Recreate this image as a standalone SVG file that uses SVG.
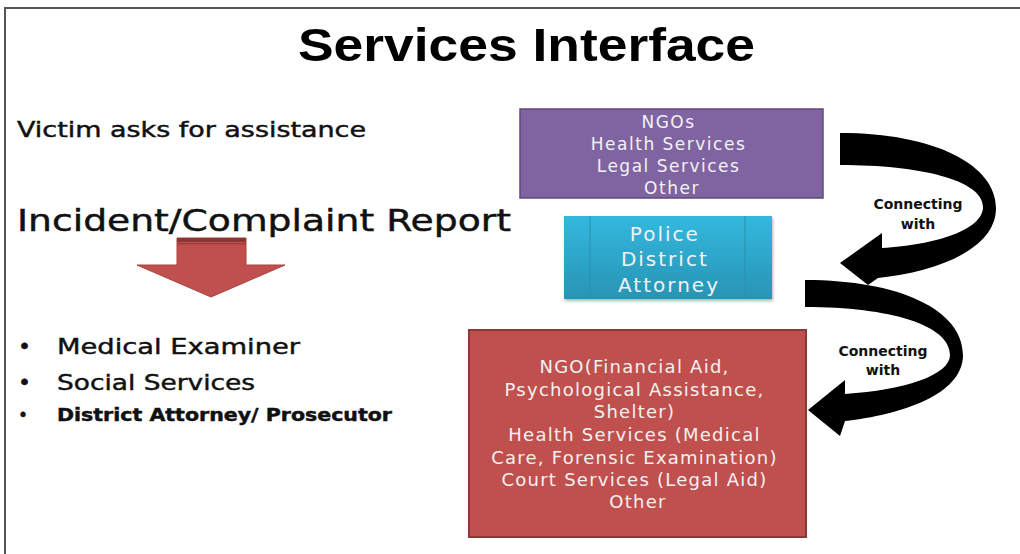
<svg xmlns="http://www.w3.org/2000/svg" width="1020" height="554" viewBox="0 0 1020 554">
  <defs>
    <linearGradient id="tealFill" x1="0" y1="0" x2="0" y2="1">
      <stop offset="0" stop-color="#33B8DE"/>
      <stop offset="1" stop-color="#2894B5"/>
    </linearGradient>
    <filter id="softShadow" x="-10%" y="-10%" width="130%" height="140%">
      <feDropShadow dx="1" dy="2" stdDeviation="1.5" flood-color="#000" flood-opacity="0.3"/>
    </filter>
    <style>
      .body { font-family: "DejaVu Sans", "Verdana", sans-serif; fill: #111; stroke: #111; stroke-width: 0.45px; }
      .boxtext { font-family: "DejaVu Sans", "Verdana", sans-serif; fill: #f2f2f2; text-anchor: middle; }
      .label { font-family: "DejaVu Sans", "Verdana", sans-serif; font-weight: bold; font-size: 14px; fill: #111;
               text-anchor: middle; stroke: #fff; stroke-width: 3px; paint-order: stroke; stroke-linejoin: round; }
      .curve { fill: #000; }
    </style>
  </defs>

  <rect x="0" y="0" width="1020" height="554" fill="#fff"/>

  <!-- slide frame -->
  <path d="M5 554 V8 H1020" fill="none" stroke="#555" stroke-width="2"/>

  <!-- title -->
  <g id="title">
    <text x="298" y="61" font-family="'Liberation Sans', Arial, sans-serif" font-weight="bold" font-size="46" fill="#000"
          textLength="457" lengthAdjust="spacingAndGlyphs">Services Interface</text>
  </g>

  <!-- left column -->
  <g id="victim">
    <text class="body" x="17" y="137" font-size="21" textLength="349" lengthAdjust="spacingAndGlyphs">Victim asks for assistance</text>
  </g>
  <g id="report">
    <text class="body" x="17" y="231" font-size="30" textLength="494" lengthAdjust="spacingAndGlyphs">Incident/Complaint Report</text>
  </g>

  <g id="down-arrow">
    <polygon points="177,238 246,238 246,265 285,265 211,297 137,265 177,265" fill="#C0504D" stroke="#A8433F" stroke-width="1"/>
    <rect x="177" y="238" width="69" height="4" fill="#8C3532"/>
    <rect x="177" y="243" width="69" height="1.5" fill="#9E3D3A"/>
  </g>

  <g id="bullets">
    <text class="body" x="18" y="354" font-size="22">•</text>
    <text class="body" x="57" y="354" font-size="22" textLength="243" lengthAdjust="spacingAndGlyphs">Medical Examiner</text>
    <text class="body" x="18" y="390" font-size="22">•</text>
    <text class="body" x="57" y="390" font-size="22" textLength="198" lengthAdjust="spacingAndGlyphs">Social Services</text>
    <text class="body" x="18" y="421" font-size="17">•</text>
    <text class="body" x="57" y="421" font-size="17" font-weight="bold" stroke-width="0.2" textLength="335" lengthAdjust="spacingAndGlyphs">District Attorney/ Prosecutor</text>
  </g>

  <!-- service boxes -->
  <g id="ngo-box">
    <rect x="520" y="109" width="303" height="89" fill="#8064A2" stroke="#5E4A7A" stroke-width="1.5"/>
    <text class="boxtext" font-size="17" letter-spacing="1.5">
      <tspan x="672" y="128">NGOs</tspan>
      <tspan x="672" y="150">Health Services</tspan>
      <tspan x="672" y="172">Legal Services</tspan>
      <tspan x="672" y="194">Other</tspan>
    </text>
  </g>

  <g id="police-box">
    <rect x="564" y="216" width="208" height="83" fill="url(#tealFill)" filter="url(#softShadow)"/>
    <line x1="590" y1="216" x2="590" y2="299" stroke="#2A8FAF" stroke-width="1"/>
    <line x1="745" y1="216" x2="745" y2="299" stroke="#2A8FAF" stroke-width="1"/>
    <text class="boxtext" font-size="20" letter-spacing="2">
      <tspan x="669" y="241">Police</tspan>
      <tspan x="669" y="266">District</tspan>
      <tspan x="669" y="292">Attorney</tspan>
    </text>
  </g>

  <g id="support-box">
    <rect x="469" y="330" width="337" height="207" fill="#C0504D" stroke="#8C3836" stroke-width="2"/>
    <text class="boxtext" font-size="18" letter-spacing="1.25">
      <tspan x="638" y="373">NGO(Financial Aid,</tspan>
      <tspan x="638" y="396">Psychological Assistance,</tspan>
      <tspan x="638" y="418">Shelter)</tspan>
      <tspan x="638" y="441">Health Services (Medical</tspan>
      <tspan x="638" y="464">Care, Forensic Examination)</tspan>
      <tspan x="638" y="486">Court Services (Legal Aid)</tspan>
      <tspan x="638" y="508">Other</tspan>
    </text>
  </g>

  <!-- curved connectors -->
  <g id="connectors">
    <path class="curve" d="M840 133 C935 133 996 165 996 208 C996 250 935 272 878 278 L868 285 L840 263 L882 233 L882 248 C935 245 983 230 983 207 C983 180 920 165 840 165 Z"/>
    <text class="label" x="918" y="209">Connecting</text>
    <text class="label" x="918" y="229">with</text>

    <path class="curve" d="M805 280 C900 280 963 310 963 355 C963 395 900 415 845 421 L840 436 L808 410 L845 380 L845 394 C905 390 950 375 950 355 C950 325 890 307 805 307 Z"/>
    <text class="label" x="883" y="356">Connecting</text>
    <text class="label" x="883" y="375">with</text>
  </g>
</svg>
